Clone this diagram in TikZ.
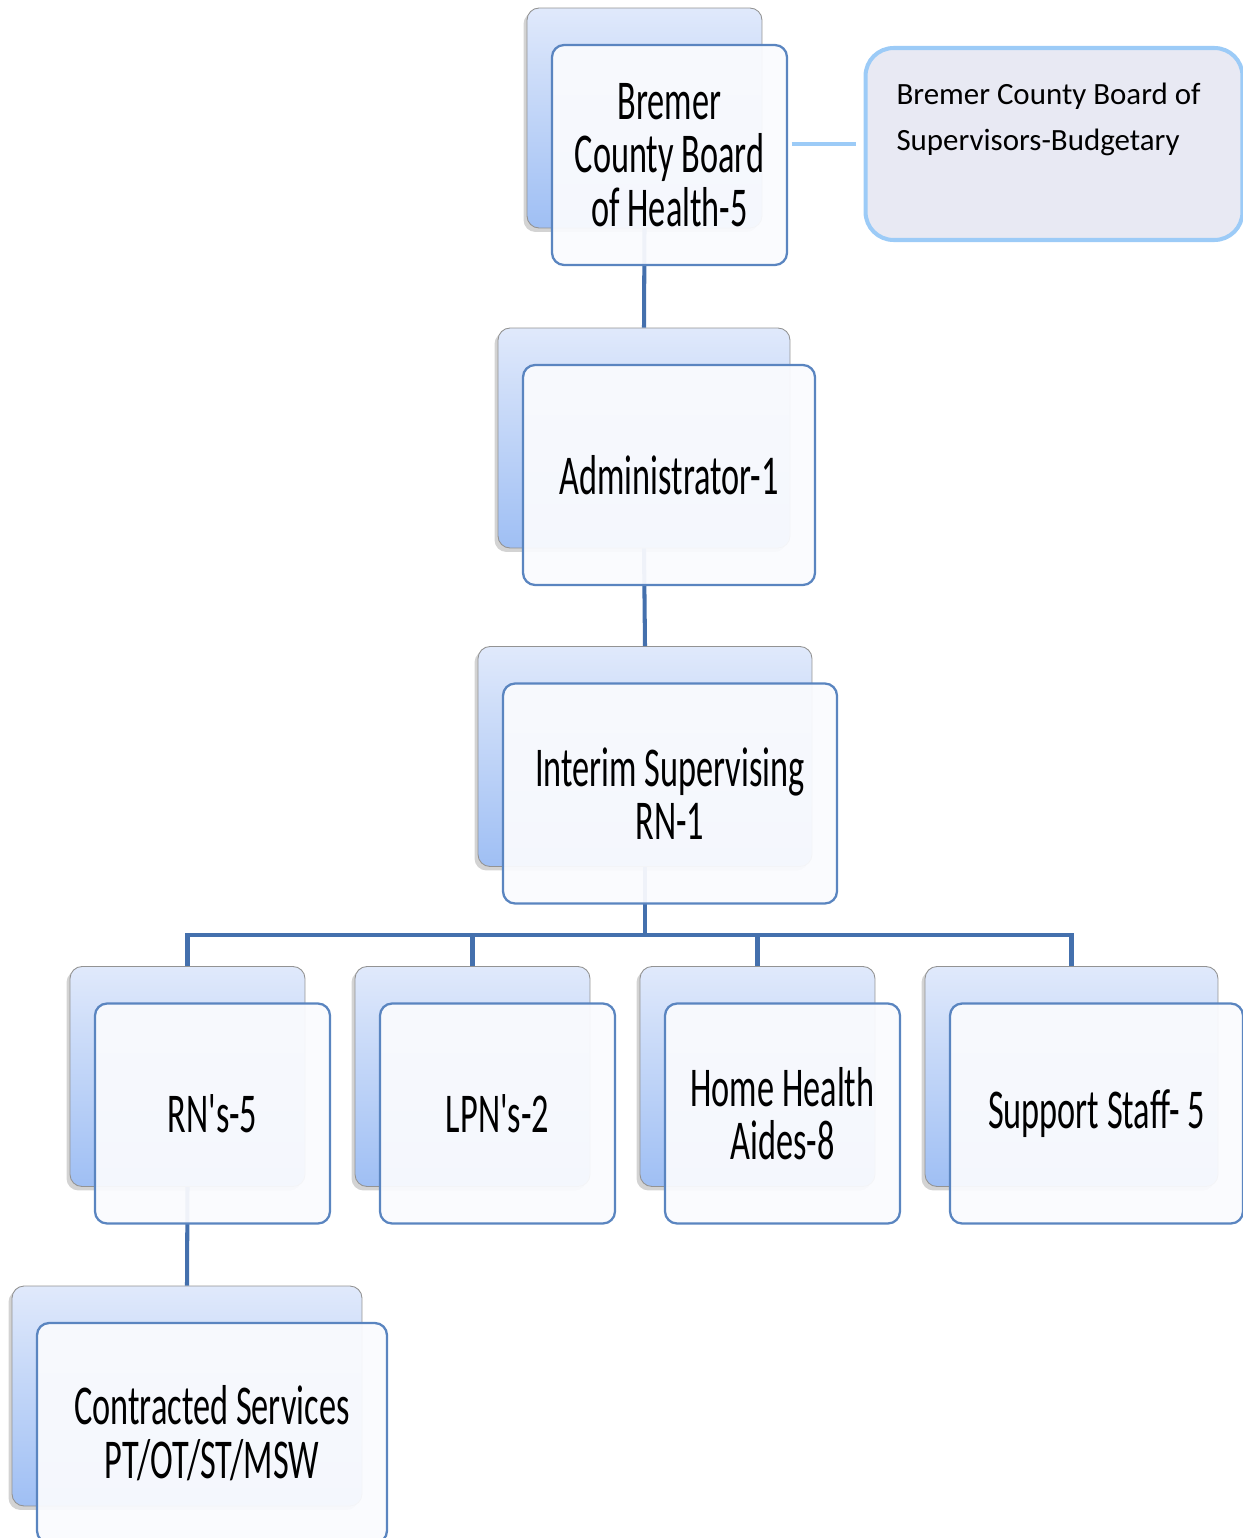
\documentclass[tikz,border=0pt]{standalone}
\usepackage{fontspec}
\usetikzlibrary{shadows}

\newfontfamily\boxfont[FakeStretch=0.61]{Carlito}
\newfontfamily\notefont{Carlito}

\definecolor{backtop}{HTML}{E0E9FB}
\definecolor{backbot}{HTML}{9FBFF4}
\definecolor{frontline}{HTML}{5A85C0}
\definecolor{frontfill}{HTML}{FAFBFE}
\definecolor{linkblue}{HTML}{4470AD}
\definecolor{noteline}{HTML}{9CCBF7}
\definecolor{notefill}{HTML}{E8E9F3}

\begin{document}
\begin{tikzpicture}[
        x=0.02cm, y=-0.02cm,
        back/.style={rounded corners=0.24cm, draw=gray!85, line width=0.5pt,
            top color=backtop, bottom color=backbot, minimum height=4.4cm,
            drop shadow={shadow xshift=-0.07cm, shadow yshift=-0.08cm, opacity=0.35}},
        front/.style={rounded corners=0.24cm, draw=frontline, line width=1.3pt,
            fill=frontfill, fill opacity=0.94, text opacity=1, minimum height=4.4cm,
            xshift=0.5cm, yshift=-0.74cm, align=center,
            font={\boxfont\fontsize{32pt}{30.5pt}\selectfont}},
        link/.style={draw=linkblue, line width=2.3pt},
        note/.style={rounded corners=0.56cm, draw=noteline, line width=2.3pt,
            fill=notefill, inner xsep=0.62cm, inner ysep=0.7cm,
            font={\notefont\fontsize{17.6pt}{26pt}\selectfont}}
    ]
    \useasboundingbox (0,0) rectangle (1242,1538);

    % back cards
    \node[back, minimum width=4.7cm]  (boardB)    at (644.5,118)   {};
    \node[back, minimum width=5.84cm] (adminB)    at (644,438)     {};
    \node[back, minimum width=6.68cm] (interimB)  at (645,756.5)   {};
    \node[back, minimum width=4.7cm]  (rnB)       at (187.5,1076.5) {};
    \node[back, minimum width=4.7cm]  (lpnB)      at (472.5,1076.5) {};
    \node[back, minimum width=4.7cm]  (aideB)     at (757.5,1076.5) {};
    \node[back, minimum width=5.86cm] (staffB)    at (1071.5,1076.5) {};
    \node[back, minimum width=7cm]    (contractB) at (187,1396)    {};

    % connectors
    \coordinate (bus) at (645,935);
    \draw[link] (boardB.south) -- (adminB.north);
    \draw[link] (adminB.south) -- (interimB.north);
    \draw[link] (interimB.south) -- (bus);
    \foreach \n in {rnB, lpnB, aideB, staffB}
        \draw[link] (\n.north) |- (bus);
    \draw[link] (rnB.south) -- (contractB.north);

    % front cards
    \node[front, minimum width=4.7cm]  (board)    at (boardB)    {Bremer\\County Board\\of Health-5};
    \node[front, minimum width=5.84cm] (admin)    at (adminB)    {Administrator-1};
    \node[front, minimum width=6.68cm] (interim)  at (interimB)  {Interim Supervising\\RN-1};
    \node[front, minimum width=4.7cm]  (rn)       at (rnB)       {RN's-5};
    \node[front, minimum width=4.7cm]  (lpn)      at (lpnB)      {LPN's-2};
    \node[front, minimum width=4.7cm]  (aide)     at (aideB)     {Home Health\\Aides-8};
    \node[front, minimum width=5.86cm] (staff)    at (staffB)    {Support Staff- 5};
    \node[front, minimum width=7cm]    (contract) at (contractB) {Contracted Services\\PT/OT/ST/MSW};

    % budget side box
    \node[note] (supv) at (1054,144)
        {\parbox[c][2.44cm][t]{6.3cm}{Bremer County Board of\\Supervisors-Budgetary}};
    \draw[draw=noteline, line width=2.3pt, shorten <=2pt, shorten >=4.5pt]
        (supv.west -| board.east) -- (supv.west);
\end{tikzpicture}
\end{document}
